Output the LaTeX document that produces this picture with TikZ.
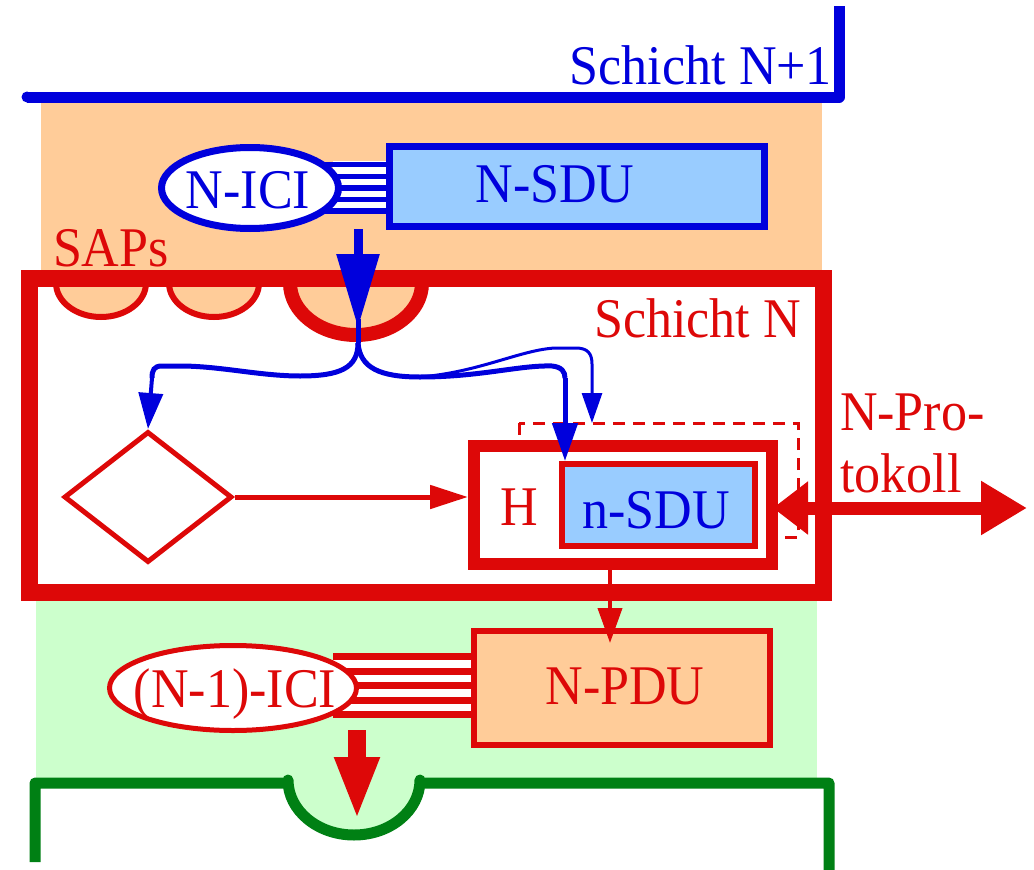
\documentclass[tikz,border=0pt]{standalone}
\usepackage{fontspec}
\setmainfont{Liberation Serif}[FakeStretch=0.93]
\usetikzlibrary{arrows.meta,shapes.geometric}
\definecolor{cblue}{RGB}{0,0,220}
\definecolor{cred}{RGB}{221,8,8}
\definecolor{cpeach}{RGB}{255,204,153}
\definecolor{clblue}{RGB}{153,204,255}
\definecolor{clgreen}{RGB}{204,255,204}
\definecolor{cgreen}{RGB}{0,128,20}
\begin{document}
\begin{tikzpicture}[x=1pt,y=-1pt,
  txt/.style={inner sep=0pt,outer sep=0pt,font=\fontsize{56}{60}\selectfont},
  boxn/.style={rectangle,inner sep=0pt},
  bline/.style={draw=cblue},
  rline/.style={draw=cred}]
\useasboundingbox (0,0) rectangle (1034,870);

% backgrounds
\fill[cpeach] (41,103) rectangle (822,272);
\fill[clgreen] (36,600) rectangle (817,783);

% layer N+1 boundary
\draw[cblue, line width=11pt, line join=round] (27,97) -- (839,97) -- (839,6);
\fill[cblue] (27,97) circle (5.5);
\node[txt, text=cblue, anchor=base east] (lN1) at (832,84) {Schicht N+1};

% N-ICI with N-SDU
\fill[white] (333,161) rectangle (389,214);
\foreach \yy in {164.5,176.5,188,199.5,211} \draw[cblue,line width=5.5pt] (320,\yy) -- (389,\yy);
\node[ellipse, draw=cblue, fill=white, line width=7pt, minimum width=177pt, minimum height=81pt, inner sep=0pt] (ici) at (250,188) {};
\node[txt, text=cblue, anchor=base] (iciT) at (248,208) {N-ICI};
\node[boxn, draw=cblue, fill=clblue, line width=7pt, minimum width=375pt, minimum height=80pt] (sdu) at (576.5,186) {};
\node[txt, text=cblue, anchor=base] (sduT) at (555,202) {N-SDU};

% SAPs
\node[txt, text=cred, anchor=base west] (saps) at (53,266) {SAPs};
\foreach \cx in {101,214} \draw[cred, fill=cpeach, line width=6pt] (\cx-45,283) arc[start angle=180,end angle=0,x radius=45,y radius=34];
\draw[cred, fill=cpeach, line width=14pt] (290,283) arc[start angle=180,end angle=0,x radius=66,y radius=52];

% layer N box
\node[boxn, draw=cred, line width=17pt, minimum width=794pt, minimum height=314pt] (layN) at (426,435) {};
\node[txt, text=cred, anchor=base east] (layNT) at (801,337) {Schicht N};

% dashed box, H box, n-SDU
\draw[cred, line width=3pt, dash pattern=on 12pt off 8pt] (519,423) rectangle (798,537);
\node[boxn, draw=cred, fill=white, line width=12pt, minimum width=298pt, minimum height=118pt] (hbox) at (623,505) {};
\node[boxn, draw=cred, fill=clblue, line width=6pt, minimum width=193pt, minimum height=82pt] (nsdu) at (658.5,505) {};
\node[txt, text=cred, anchor=base] (hT) at (519,525) {H};
\node[txt, text=cblue, anchor=base] (nsduT) at (656,528) {n-SDU};

% diamond
\node[diamond, draw=cred, fill=white, line width=5pt, minimum width=168pt, minimum height=131pt, inner sep=0pt] (dia) at (148,497) {};
\draw[cred, line width=5pt, -{Triangle[width=23pt,length=38pt]}] (dia.east) -- (dia.east -| hbox.west);

% blue arrow and branches
\coordinate (a0) at (358,229);
\coordinate (a1) at (358,328);
\coordinate (sp) at (358,343);
\draw[cblue, line width=9pt, -{Triangle[width=41pt,length=74pt]}] (a0) -- (a1);
\draw[cblue, line width=5pt] (358,319) -- (sp);
\draw[cblue, line width=5pt] (sp) .. controls (358,368) and (340,376) .. (300,376) .. controls (260,376) and (220,366) .. (180,366) -- (162,366) .. controls (154,366) and (152,370) .. (152,378);
\draw[cblue, line width=4pt, -{Triangle[width=24pt,length=36pt]}] (152,378) -- (dia.north);
\draw[cblue, line width=5pt] (sp) .. controls (360,368) and (380,377) .. (420,377) .. controls (480,377) and (520,365) .. (552,366) .. controls (562,367) and (565,372) .. (565,378);
\coordinate (rb) at (565,378);
\draw[cblue, line width=5pt, -{Triangle[width=25pt,length=38pt]}] (rb) -- (rb |- nsdu.north);
\draw[cblue, line width=3pt, -{Triangle[width=20pt,length=30pt]}] (420,377) .. controls (480,372) and (520,350) .. (555,348) -- (576,348) .. controls (588,348) and (592,354) .. (592,364) -- (592,423);

% N-Protokoll
\coordinate (pl) at (773,508);
\coordinate (pr) at (1027,508);
\draw[cred, line width=13pt, {Triangle[width=51pt,length=35pt]}-{Triangle[width=51pt,length=46pt]}] (pl) -- (pr);
\node[txt, text=cred, anchor=base west] (prot1) at (840,430) {N-Pro-};
\node[txt, text=cred, anchor=base west] (prot2) at (840,492) {tokoll};

% (N-1)-ICI with N-PDU
\fill[white] (333,653) rectangle (474,718);
\foreach \yy in {656.5,671,685.5,700.5,714.5} \draw[cred, line width=7pt] (333,\yy) -- (474,\yy);
\node[boxn, draw=cred, fill=cpeach, line width=6pt, minimum width=296pt, minimum height=114pt] (pdu) at (622,688) {};
\node[txt, text=cred, anchor=base] (pduT) at (625,704) {N-PDU};
\node[ellipse, draw=cred, fill=white, line width=5pt, minimum width=247pt, minimum height=85pt, inner sep=0pt] (ici2) at (233,688) {};
\node[txt, text=cred, anchor=base] (ici2T) at (235,707) {(N-1)-ICI};

\coordinate (dx) at (610,0);
\coordinate (dt) at (610,643);
\draw[cred, line width=4pt, -{Triangle[width=24pt,length=35pt]}] (hbox.south -| dx) -- (dt);

% layer N-1 boundary
\fill[clgreen] (288,780) arc[start angle=180,end angle=0,x radius=66,y radius=55] -- cycle;
\draw[cgreen, line width=11pt, line join=round] (35,862) -- (35,783) -- (288,783) -- (288,780) arc[start angle=180,end angle=0,x radius=66,y radius=55] -- (420,783) -- (829,783) -- (829,870);

% red arrow down
\coordinate (r0) at (357,730);
\coordinate (r1) at (357,820);
\draw[cred, line width=18pt, -{Triangle[width=41pt,length=63pt]}] (r0) -- (r1);
\end{tikzpicture}
\end{document}
